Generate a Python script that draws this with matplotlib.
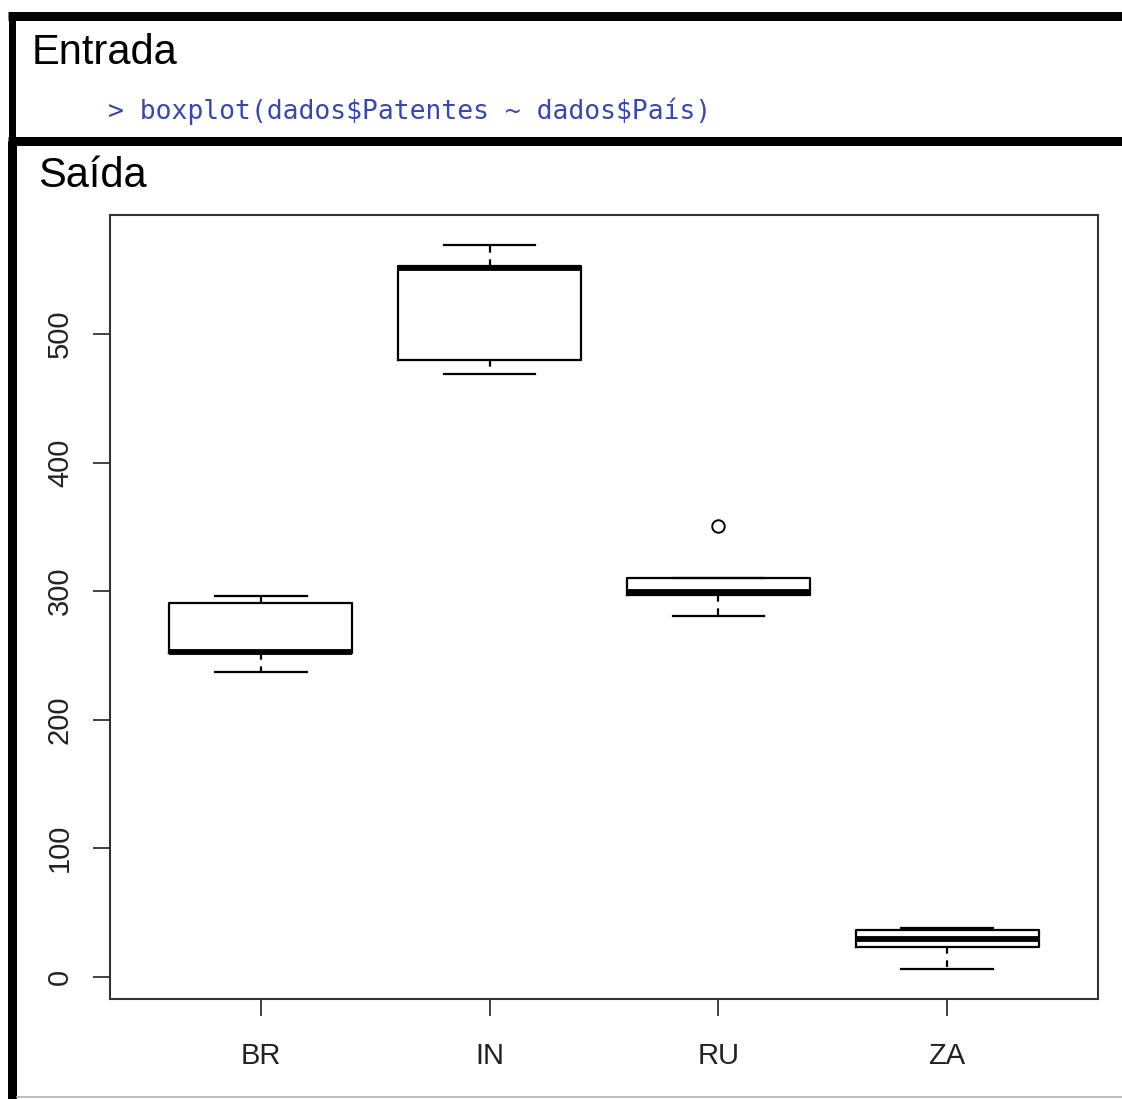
import matplotlib
matplotlib.use("Agg")
import matplotlib.pyplot as plt
from matplotlib.lines import Line2D

# ---- data ----
countries = ["BR", "IN", "RU", "ZA"]
whisker_low = [237, 469, 281, 6]
q1_values = [252, 480, 297, 23]
medians = [253, 551, 299, 29]
q3_values = [291, 553, 310, 36]
whisker_high = [296, 569, 310, 38]
outliers = [[], [], [351], []]
y_ticks = [0, 100, 200, 300, 400, 500]

title_in = "Entrada"
code_line = "> boxplot(dados$Patentes ~ dados$País)"
title_out = "Saída"

W, H = 1122, 1099
fig = plt.figure(figsize=(W / 100, H / 100), dpi=100)
fig.patch.set_facecolor("white")

def fx(px):
    return px / W

def fy(py):
    return 1 - py / H

# ---- panel borders ----
def hline(y, x0, x1, lw_px, color="black"):
    fig.add_artist(Line2D([fx(x0), fx(x1)], [fy(y), fy(y)], color=color,
                          lw=lw_px * 0.72, solid_capstyle="butt"))

def vline(x, y0, y1, lw_px, color="black"):
    fig.add_artist(Line2D([fx(x), fx(x)], [fy(y0), fy(y1)], color=color,
                          lw=lw_px * 0.72, solid_capstyle="butt"))

hline(16, 8, W, 9)          # top border
vline(12, 12, 141, 7)       # left border upper panel
hline(141, 8, W, 9)         # separator
vline(12, 141, H, 9)        # left border lower panel
hline(1097, 16, W, 1.5, color="#aaaaaa")

# ---- texts ----
fig.text(fx(32), fy(53), title_in, fontsize=30, family="Liberation Sans",
         va="center", ha="left", color="black")
fig.text(fx(108), fy(111), code_line, fontsize=19, family="DejaVu Sans Mono",
         va="center", ha="left", color="#3a48a8", parse_math=False)
fig.text(fx(38), fy(176), title_out, fontsize=30, family="Liberation Sans",
         va="center", ha="left", color="black")

# ---- boxplot ----
ax = fig.add_axes([fx(110), fy(999), fx(1098) - fx(110), fy(215) - fy(999)])
stats = []
for i, c in enumerate(countries):
    stats.append(dict(label=c, whislo=whisker_low[i], q1=q1_values[i],
                      med=medians[i], q3=q3_values[i],
                      whishi=whisker_high[i], fliers=outliers[i]))

ax.bxp(stats, positions=range(1, len(countries) + 1), widths=0.8,
       capwidths=0.4,
       boxprops=dict(color="black", lw=1.6),
       medianprops=dict(color="black", lw=4.2, solid_capstyle="butt"),
       whiskerprops=dict(color="black", lw=1.6, linestyle=(0, (3, 3))),
       capprops=dict(color="black", lw=1.6),
       flierprops=dict(marker="o", markerfacecolor="none",
                       markeredgecolor="black", markersize=9, markeredgewidth=1.4))

ax.set_xlim(0.34, 4.66)
ax.set_ylim(-17.3, 592.6)
ax.set_yticks(y_ticks)
ax.set_yticklabels([str(t) for t in y_ticks])
ax.set_xticks(range(1, len(countries) + 1))
ax.set_xticklabels(countries)

for s in ax.spines.values():
    s.set_color("#333333")
    s.set_linewidth(1.5)

ax.tick_params(axis="y", length=12, width=1.3, color="#333333", pad=14,
               labelsize=21, labelcolor="#222222", labelrotation=90)
for lab in ax.get_yticklabels():
    lab.set_va("center")
ax.tick_params(axis="x", length=12, width=1.3, color="#333333", pad=19,
               labelsize=21, labelcolor="#222222")
for lab in ax.get_xticklabels() + ax.get_yticklabels():
    lab.set_family("Liberation Sans")

fig.savefig("out.png", dpi=100, facecolor="white")
